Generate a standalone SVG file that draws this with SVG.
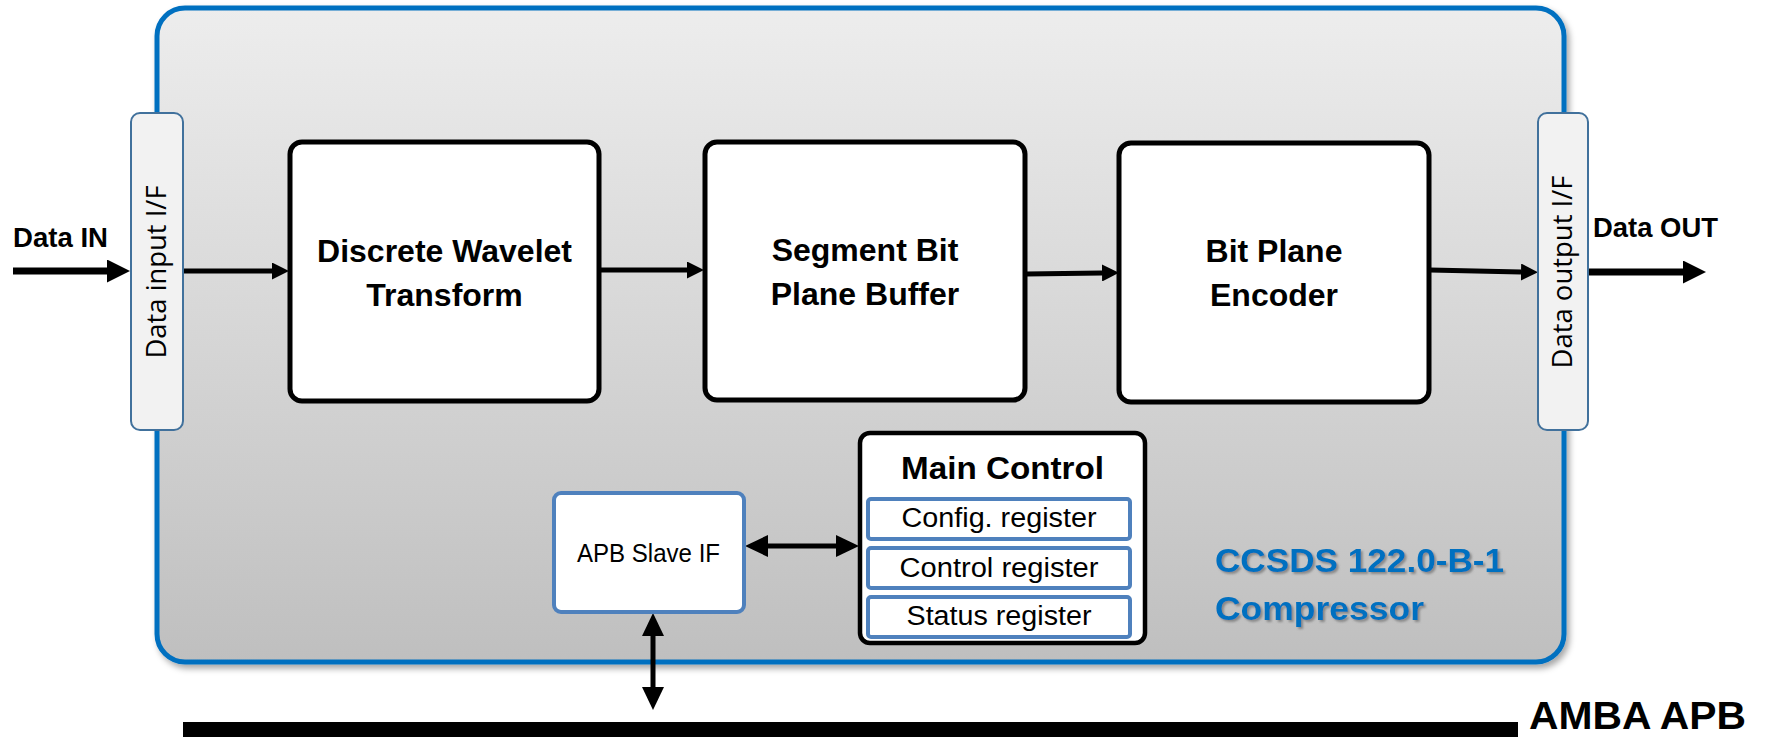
<svg xmlns="http://www.w3.org/2000/svg" width="1765" height="737" viewBox="0 0 1765 737">
  <style>
    .bold { font-family: "Liberation Sans", Arial, sans-serif; font-weight: bold; fill: #000; }
    .reg { font-family: "Liberation Sans", Arial, sans-serif; fill: #000; }
    .iftxt { font-family: "Open Sans", "Liberation Sans", sans-serif; font-size: 27px; fill: #000; }
    .block { fill: #fff; stroke: #000; stroke-width: 5; }
    .iface { fill: #f2f2f2; stroke: #41719c; stroke-width: 2; }
    .reg-box { fill: #fff; stroke: #4f81bd; stroke-width: 4; }
    .wire { fill: none; stroke: #000; }
  </style>
  <defs>
    <linearGradient id="bodyFill" x1="0" y1="0" x2="0" y2="1">
      <stop offset="0" stop-color="#ededed"/>
      <stop offset="1" stop-color="#bfbfbf"/>
    </linearGradient>
    <filter id="boxShadow" x="-5%" y="-5%" width="110%" height="110%">
      <feDropShadow dx="3" dy="4" stdDeviation="3" flood-color="#000" flood-opacity="0.35"/>
    </filter>
    <filter id="textShadow" x="-5%" y="-20%" width="110%" height="140%">
      <feDropShadow dx="2" dy="2" stdDeviation="1" flood-color="#606060" flood-opacity="0.6"/>
    </filter>
    <marker id="headL" markerUnits="userSpaceOnUse" markerWidth="23" markerHeight="23" viewBox="0 0 23 23" refX="0" refY="11.5" orient="auto">
      <path d="M0,0 L23,11.5 L0,23 Z" fill="#000"/>
    </marker>
    <marker id="headS" markerUnits="userSpaceOnUse" markerWidth="17" markerHeight="17" viewBox="0 0 17 17" refX="0" refY="8.5" orient="auto">
      <path d="M0,0 L17,8.5 L0,17 Z" fill="#000"/>
    </marker>
    <marker id="headD" markerUnits="userSpaceOnUse" markerWidth="23" markerHeight="23" viewBox="0 0 23 23" refX="0" refY="11.5" orient="auto-start-reverse">
      <path d="M0,0.5 L23,11.5 L0,22.5 Z" fill="#000"/>
    </marker>
  </defs>

  <!-- compressor body -->
  <g id="compressor">
    <rect x="157" y="8" width="1407" height="654" rx="28" fill="url(#bodyFill)" stroke="#0070c0" stroke-width="5" filter="url(#boxShadow)"/>
    <g filter="url(#textShadow)">
      <text class="bold" x="1215" y="572" font-size="34" style="fill:#0070c0" textLength="289" lengthAdjust="spacingAndGlyphs">CCSDS 122.0-B-1</text>
      <text class="bold" x="1215" y="620" font-size="34" style="fill:#0070c0" textLength="209" lengthAdjust="spacingAndGlyphs">Compressor</text>
    </g>
  </g>

  <!-- AMBA APB bus -->
  <g id="amba-apb">
    <rect x="183" y="722" width="1335" height="20" fill="#000"/>
    <text class="bold" x="1529" y="728.5" font-size="38.5" textLength="217" lengthAdjust="spacingAndGlyphs">AMBA APB</text>
  </g>

  <!-- connectors -->
  <g id="connectors">
    <path class="wire" d="M13,271 H107" stroke-width="7" marker-end="url(#headL)"/>
    <path class="wire" d="M183,271 H272" stroke-width="5" marker-end="url(#headS)"/>
    <path class="wire" d="M600,270 H687" stroke-width="5" marker-end="url(#headS)"/>
    <path class="wire" d="M1026,274 L1102,273" stroke-width="5" marker-end="url(#headS)"/>
    <path class="wire" d="M1430,270 L1521,272" stroke-width="5" marker-end="url(#headS)"/>
    <path class="wire" d="M1588,272 H1683" stroke-width="7" marker-end="url(#headL)"/>
    <path class="wire" d="M768,546 H836" stroke-width="5" marker-start="url(#headD)" marker-end="url(#headD)"/>
    <path class="wire" d="M653,636 V687" stroke-width="5" marker-start="url(#headD)" marker-end="url(#headD)"/>
  </g>

  <!-- external labels -->
  <g id="labels">
    <text class="bold" x="13" y="247" font-size="28" textLength="95" lengthAdjust="spacingAndGlyphs">Data IN</text>
    <text class="bold" x="1593" y="237" font-size="28" textLength="125" lengthAdjust="spacingAndGlyphs">Data OUT</text>
  </g>

  <g id="data-input-if">
    <rect class="iface" x="131" y="113" width="52" height="317" rx="9"/>
    <text class="iftxt" transform="translate(166,272) rotate(-90)" text-anchor="middle" textLength="173" lengthAdjust="spacingAndGlyphs">Data input I/F</text>
  </g>

  <g id="data-output-if">
    <rect class="iface" x="1538" y="113" width="50" height="317" rx="9"/>
    <text class="iftxt" transform="translate(1572,272) rotate(-90)" text-anchor="middle" textLength="193" lengthAdjust="spacingAndGlyphs">Data output I/F</text>
  </g>

  <g id="dwt">
    <rect class="block" x="290" y="142" width="309" height="259" rx="12"/>
    <text class="bold" font-size="32" text-anchor="middle"><tspan x="444.5" y="262">Discrete Wavelet</tspan><tspan x="444.5" y="306">Transform</tspan></text>
  </g>

  <g id="segment-buffer">
    <rect class="block" x="705" y="142" width="320" height="258" rx="12"/>
    <text class="bold" font-size="32" text-anchor="middle"><tspan x="865" y="261">Segment Bit</tspan><tspan x="865" y="305">Plane Buffer</tspan></text>
  </g>

  <g id="bit-plane-encoder">
    <rect class="block" x="1119" y="143" width="310" height="259" rx="12"/>
    <text class="bold" font-size="32" text-anchor="middle"><tspan x="1274" y="262">Bit Plane</tspan><tspan x="1274" y="306">Encoder</tspan></text>
  </g>

  <g id="apb-slave-if">
    <rect class="reg-box" x="554" y="493" width="190" height="119" rx="7"/>
    <text class="reg" x="648.5" y="562" font-size="25" text-anchor="middle" textLength="143" lengthAdjust="spacingAndGlyphs">APB Slave IF</text>
  </g>

  <g id="main-control">
    <rect x="860" y="433" width="285" height="210" rx="10" fill="#fff" stroke="#000" stroke-width="4.5"/>
    <text class="bold" x="1002.5" y="479" font-size="32" text-anchor="middle" textLength="203" lengthAdjust="spacingAndGlyphs">Main Control</text>
    <g id="config-register">
      <rect class="reg-box" x="868" y="499" width="262" height="40" rx="3"/>
      <text class="reg" x="999" y="527" font-size="27" text-anchor="middle" textLength="195" lengthAdjust="spacingAndGlyphs">Config. register</text>
    </g>
    <g id="control-register">
      <rect class="reg-box" x="868" y="548" width="262" height="40" rx="3"/>
      <text class="reg" x="999" y="577" font-size="27" text-anchor="middle" textLength="199" lengthAdjust="spacingAndGlyphs">Control register</text>
    </g>
    <g id="status-register">
      <rect class="reg-box" x="868" y="597" width="262" height="40" rx="3"/>
      <text class="reg" x="999" y="625" font-size="27" text-anchor="middle" textLength="185" lengthAdjust="spacingAndGlyphs">Status register</text>
    </g>
  </g>
</svg>
